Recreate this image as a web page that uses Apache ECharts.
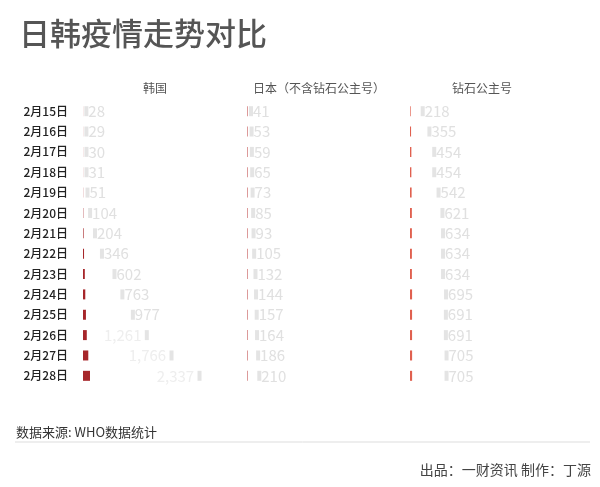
<!DOCTYPE html>
<html>
<head>
<meta charset="utf-8">
<script src="https://cdn.jsdelivr.net/npm/echarts@6/dist/echarts.min.js"></script>
<style>
html,body{margin:0;padding:0;background:#fff;}
#c{width:600px;height:487px;}
</style>
</head>
<body>
<div id="c"></div>
<script>
const dates = ['2月15日','2月16日','2月17日','2月18日','2月19日','2月20日','2月21日','2月22日','2月23日','2月24日','2月25日','2月26日','2月27日','2月28日'];
const korea = [28,29,30,31,51,104,204,346,602,763,977,1261,1766,2337];
const japan = [41,53,59,65,73,85,93,105,132,144,157,164,186,210];
const diamond = [218,355,454,454,542,621,634,634,634,695,691,691,705,705];
const columnNames = ['韩国','日本（不含钻石公主号）','钻石公主号'];

const FONT = '"Noto Sans CJK SC","Noto Sans",sans-serif';
const cols = [
  {name: columnNames[0], data: korea, color: '#a6262a', left: 83},
  {name: columnNames[1], data: japan, color: '#dc9a9a', left: 247},
  {name: columnNames[2], data: diamond, color: '#e0604f', left: 410}
];
const gridW = 150, gridTop = 101, gridH = 285;
const BAR_PX = 0.003, LABEL_PX = 0.049;

const grid = [], xAxis = [], yAxis = [], series = [], graphic = [];
cols.forEach((c, i) => {
  grid.push({left: c.left, top: gridTop, width: gridW, height: gridH});
  xAxis.push({type: 'value', gridIndex: i, min: 0, max: gridW / BAR_PX, show: false});
  xAxis.push({type: 'value', gridIndex: i, min: 0, max: gridW / LABEL_PX, show: false});
  yAxis.push({
    type: 'category', gridIndex: i, data: dates, inverse: true,
    axisLine: {show: false}, axisTick: {show: false}, splitLine: {show: false},
    axisLabel: {show: i === 0, margin: 15, fontSize: 12, color: '#222', fontWeight: 500, fontFamily: FONT}
  });
  series.push({
    type: 'bar', xAxisIndex: 2 * i, yAxisIndex: i, data: c.data,
    barWidth: 10, barGap: '-100%', barMinHeight: i === 1 ? 1 : 0,
    itemStyle: {color: c.color}, silent: true
  });
  series.push({
    type: 'bar', xAxisIndex: 2 * i + 1, yAxisIndex: i, barWidth: 10, barGap: '-100%',
    itemStyle: {color: 'rgba(0,0,0,0)'}, silent: true,
    data: c.data.map(v => {
      const big = v >= 1000;
      return {
        value: v,
        label: {
          show: true,
          position: big ? 'insideRight' : 'right',
          distance: 0,
          offset: big ? [4, 0] : [0, 0],
          formatter: big ? '{v|' + v.toLocaleString('en-US') + '} {g|}' : '{g|}{v|' + v + '}',
          rich: {
            g: {backgroundColor: '#e4e4e4', width: 4, height: 10},
            v: {fontSize: 15, color: big ? '#eeeeee' : '#e0e0e0', fontFamily: FONT}
          }
        }
      };
    })
  });
  graphic.push({
    type: 'text', x: c.left + 72, y: 88,
    style: {text: c.name, align: 'center', verticalAlign: 'middle', fill: '#555', font: '12px ' + FONT}
  });
});

graphic.push(
  {type: 'text', x: 19, y: 33, style: {text: '日韩疫情走势对比', verticalAlign: 'middle', font: '500 31px ' + FONT, fill: '#555'}},
  {type: 'text', x: 16, y: 432, style: {text: '数据来源: WHO数据统计', verticalAlign: 'middle', font: '13px ' + FONT, fill: '#333'}},
  {type: 'line', shape: {x1: 15, y1: 442, x2: 590, y2: 442}, style: {stroke: '#dddddd', lineWidth: 1}},
  {type: 'text', x: 591, y: 470, style: {text: '出品：一财资讯 制作：丁源', align: 'right', verticalAlign: 'middle', font: '14px ' + FONT, fill: '#444'}}
);

const chart = echarts.init(document.getElementById('c'));
chart.setOption({
  animation: false,
  backgroundColor: '#fff',
  grid, xAxis, yAxis, series, graphic
});
</script>
</body>
</html>
